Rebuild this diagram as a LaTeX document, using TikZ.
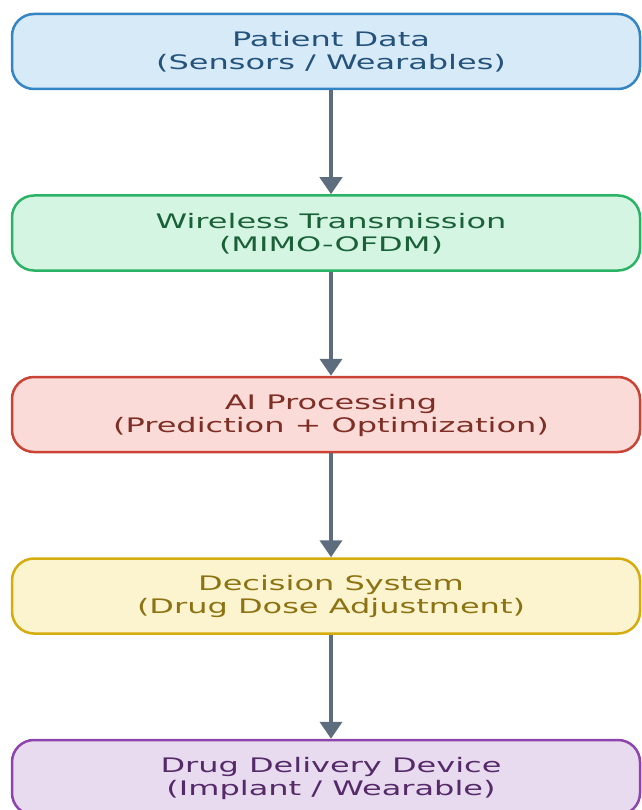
\documentclass[tikz,border=0pt]{standalone}
\usepackage{fontspec}
\setmainfont{DejaVu Sans}
\newfontfamily\widefont[FakeStretch=1.6]{DejaVu Sans}
\usetikzlibrary{arrows.meta,calc}
\definecolor{bfA}{HTML}{D6EAF8}\definecolor{bdA}{HTML}{3585C5}\definecolor{txA}{HTML}{24527A}
\definecolor{bfB}{HTML}{D5F5E3}\definecolor{bdB}{HTML}{2BB365}\definecolor{txB}{HTML}{1A6138}
\definecolor{bfC}{HTML}{FADBD8}\definecolor{bdC}{HTML}{CB4335}\definecolor{txC}{HTML}{7E2E24}
\definecolor{bfD}{HTML}{FCF3CF}\definecolor{bdD}{HTML}{D4AC0D}\definecolor{txD}{HTML}{8B7312}
\definecolor{bfE}{HTML}{E8DAEF}\definecolor{bdE}{HTML}{8E44AD}\definecolor{txE}{HTML}{552A68}
\definecolor{arr}{HTML}{5D6D7E}
\begin{document}
\begin{tikzpicture}[x=1pt,y=-1pt,
  stagebox/.style={draw, rounded corners=22pt, line width=2.5pt, minimum width=628pt, minimum height=75pt, inner sep=0pt},
  stagetext/.style={align=center, font=\widefont\fontsize{20}{23}\selectfont, inner sep=0pt},
  flow/.style={draw=arr, line width=4pt, -{Triangle[width=22pt,length=17pt]}}]
\useasboundingbox (0,0) rectangle (641,810);
\node[stagebox, fill=bfA, draw=bdA] (b1) at (326,51.5) {};
\node[stagetext, text=txA] (t1) at (331,52) {Patient Data\\(Sensors / Wearables)};
\node[stagebox, fill=bfB, draw=bdB] (b2) at (326,233) {};
\node[stagetext, text=txB] (t2) at (331,233.5) {Wireless Transmission\\(MIMO-OFDM)};
\node[stagebox, fill=bfC, draw=bdC] (b3) at (326,414.5) {};
\node[stagetext, text=txC] (t3) at (331,415) {AI Processing\\(Prediction + Optimization)};
\node[stagebox, fill=bfD, draw=bdD] (b4) at (326,596) {};
\node[stagetext, text=txD] (t4) at (331,596.5) {Decision System\\(Drug Dose Adjustment)};
\node[stagebox, fill=bfE, draw=bdE] (b5) at (326,777.5) {};
\node[stagetext, text=txE] (t5) at (331,778) {Drug Delivery Device\\(Implant / Wearable)};
\draw[flow] (t1 |- b1.south) -- (t1 |- b2.north);
\draw[flow] (t1 |- b2.south) -- (t1 |- b3.north);
\draw[flow] (t1 |- b3.south) -- (t1 |- b4.north);
\draw[flow] (t1 |- b4.south) -- (t1 |- b5.north);
\end{tikzpicture}
\end{document}
